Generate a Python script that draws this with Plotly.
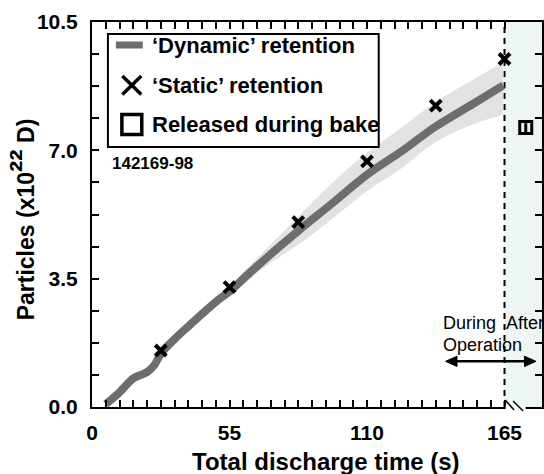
import plotly.graph_objects as go

# ---- data ----
# dynamic retention curve (time in s, particles in 1e22 D)
dyn_time = [5.5, 8, 11, 14, 16.5, 19, 22, 25, 27.5, 33, 39, 45, 51, 55.5, 61.5,
            70, 83, 96, 110.5, 124, 137, 152, 164.5]
dyn_val = [0.08, 0.22, 0.40, 0.62, 0.78, 0.86, 0.95, 1.15, 1.45, 1.85, 2.23, 2.60,
           2.95, 3.18, 3.56, 4.08, 4.83, 5.55, 6.36, 6.98, 7.63, 8.25, 8.77]
dyn_hi = [0.10, 0.24, 0.42, 0.64, 0.80, 0.88, 0.97, 1.18, 1.50, 1.91, 2.31, 2.70,
          3.08, 3.33, 3.75, 4.33, 5.23, 6.10, 6.96, 7.63, 8.30, 8.91, 9.40]
dyn_lo = [0.06, 0.20, 0.38, 0.60, 0.76, 0.84, 0.93, 1.12, 1.40, 1.80, 2.16, 2.50,
          2.82, 3.04, 3.38, 3.86, 4.45, 5.13, 5.91, 6.52, 7.21, 7.70, 7.97]

# static retention points
static_time = [27.5, 55, 82.5, 110, 137.5, 165]
static_val = [1.54, 3.27, 5.04, 6.70, 8.22, 9.49]

# released during bake
bake_time = [173.5]
bake_val = [7.62]
bake_err = [0.12]

# axis ticks
x_major = [0, 55, 110, 165]
x_labels = ["0", "55", "110", "165"]
y_major = [0.0, 3.5, 7.0, 10.5]
y_labels = ["0.0", "3.5", "7.0", "10.5"]
x_step = 5.5
y_step = 0.875

legend_labels = ["‘Dynamic’ retention", "‘Static’ retention", "Released during bake"]

FONT = "Liberation Sans, Arial, Helvetica, sans-serif"
LINE_GRAY = "#6d6d6d"
BAND_GRAY = "#e2e2e2"

W, H = 544, 474
ML, MR, MT, MB = 92, 0, 22, 67
PW, PH = W - ML - MR, H - MT - MB


def px(xpix):
    """Pixel column -> paper x."""
    return (xpix - ML) / PW


def py(ypix):
    """Pixel row -> paper y."""
    return (H - MB - ypix) / PH


# unlabeled minor ticks between the labeled ones
x_minor = [round(i * x_step, 3) for i in range(int(165 / x_step) + 1)]
x_minor = [v for v in x_minor if v not in x_major]
y_minor = [round(i * y_step, 4) for i in range(int(10.5 / y_step) + 1)]
y_minor = [v for v in y_minor if v not in y_major]

fig = go.Figure()

# uncertainty band
fig.add_trace(go.Scatter(x=dyn_time, y=dyn_hi, mode="lines",
                         line=dict(width=0, shape="spline", smoothing=1),
                         showlegend=False, hoverinfo="skip"))
fig.add_trace(go.Scatter(x=dyn_time, y=dyn_lo, mode="lines",
                         line=dict(width=0, shape="spline", smoothing=1),
                         fill="tonexty", fillcolor=BAND_GRAY,
                         showlegend=False, hoverinfo="skip"))
# dynamic retention
fig.add_trace(go.Scatter(x=dyn_time, y=dyn_val, mode="lines",
                         line=dict(color=LINE_GRAY, width=8, shape="spline", smoothing=1),
                         showlegend=False))
# static retention
fig.add_trace(go.Scatter(x=static_time, y=static_val, mode="markers",
                         marker=dict(symbol="x-thin", size=11, color="black",
                                     line=dict(color="black", width=4)),
                         showlegend=False))
# released during bake
fig.add_trace(go.Scatter(x=bake_time, y=bake_val, mode="markers",
                         marker=dict(symbol="square-open", size=12, color="black",
                                     line=dict(color="black", width=3)),
                         error_y=dict(type="data", array=bake_err, color="black",
                                      thickness=3, width=0),
                         showlegend=False))

# arrow between "During Operation" and "After"
arrow_y = 1.245
arrow_l, arrow_r = 141.4, 177.6
head_len, head_half = 4.6, 0.14

shapes = [
    # after-operation region
    dict(type="rect", xref="x", yref="paper", x0=165, x1=200, y0=0, y1=1,
         fillcolor="#edf6f4", line=dict(width=0), layer="below"),
    # boundary between operation and bake
    dict(type="line", xref="x", yref="paper", x0=165, x1=165, y0=0, y1=1,
         line=dict(color="black", width=2, dash="6px,5px"), layer="below"),
    # axis break on the bottom axis
    dict(type="rect", xref="paper", yref="paper", x0=px(507.5), x1=px(527.5),
         y0=py(411), y1=py(405.5), fillcolor="white", line=dict(width=0), layer="above"),
    dict(type="line", xref="paper", yref="paper", x0=px(507), x1=px(516),
         y0=py(400), y1=py(410), line=dict(color="black", width=1.5), layer="above"),
    dict(type="line", xref="paper", yref="paper", x0=px(515), x1=px(525),
         y0=py(401), y1=py(411), line=dict(color="black", width=1.5), layer="above"),
    # double-headed arrow
    dict(type="line", xref="x", yref="y", x0=arrow_l + head_len - 0.5,
         x1=arrow_r - head_len + 0.5, y0=arrow_y, y1=arrow_y,
         line=dict(color="black", width=2.5), layer="above"),
    dict(type="path", xref="x", yref="y",
         path=f"M {arrow_l},{arrow_y} L {arrow_l + head_len},{arrow_y + head_half} "
              f"L {arrow_l + head_len},{arrow_y - head_half} Z",
         fillcolor="black", line=dict(color="black", width=1), layer="above"),
    dict(type="path", xref="x", yref="y",
         path=f"M {arrow_r},{arrow_y} L {arrow_r - head_len},{arrow_y + head_half} "
              f"L {arrow_r - head_len},{arrow_y - head_half} Z",
         fillcolor="black", line=dict(color="black", width=1), layer="above"),
    # legend frame
    dict(type="rect", xref="paper", yref="paper", x0=px(108), x1=px(380),
         y0=py(147), y1=py(34), fillcolor="white",
         line=dict(color="black", width=2), layer="above"),
    # legend key: dynamic line
    dict(type="line", xref="paper", yref="paper", x0=px(116), x1=px(143),
         y0=py(45), y1=py(45), line=dict(color=LINE_GRAY, width=7), layer="above"),
    # legend key: cross
    dict(type="line", xref="paper", yref="paper", x0=px(122.5), x1=px(141.5),
         y0=py(76), y1=py(94.5), line=dict(color="black", width=3.5), layer="above"),
    dict(type="line", xref="paper", yref="paper", x0=px(122.5), x1=px(141.5),
         y0=py(94.5), y1=py(76), line=dict(color="black", width=3.5), layer="above"),
    # legend key: square
    dict(type="rect", xref="paper", yref="paper", x0=px(122), x1=px(142),
         y0=py(134.5), y1=py(114.5), fillcolor="white",
         line=dict(color="black", width=3.5), layer="above"),
]

annotations = [
    dict(text="<b>Total discharge time (s)</b>", xref="paper", yref="paper",
         x=px(327), y=py(461), showarrow=False, xanchor="center", yanchor="middle",
         font=dict(family=FONT, size=24, color="black")),
    dict(text="<b>Particles (x10<span style='font-size:34px'>²²</span> D)</b>",
         xref="paper", yref="paper",
         x=px(22), y=py(219), textangle=-90, showarrow=False,
         xanchor="center", yanchor="middle",
         font=dict(family=FONT, size=23, color="black")),
    dict(text="<b>142169-98</b>", xref="paper", yref="paper", x=px(110), y=py(163),
         showarrow=False, xanchor="left", yanchor="middle",
         font=dict(family=FONT, size=17, color="black")),
    dict(text="During", xref="x", yref="y", x=139.5, y=2.30, showarrow=False,
         xanchor="left", yanchor="middle", font=dict(family=FONT, size=18, color="black")),
    dict(text="Operation", xref="x", yref="y", x=139.5, y=1.68, showarrow=False,
         xanchor="left", yanchor="middle", font=dict(family=FONT, size=18, color="black")),
    dict(text="After", xref="x", yref="y", x=164.9, y=2.30, showarrow=False,
         xanchor="left", yanchor="middle", font=dict(family=FONT, size=18, color="black")),
]
# legend labels
for label, row in zip(legend_labels, [45, 85, 125]):
    annotations.append(dict(text=f"<b>{label}</b>", xref="paper", yref="paper",
                            x=px(150), y=py(row), showarrow=False,
                            xanchor="left", yanchor="middle",
                            font=dict(family=FONT, size=22, color="black")))

tick_style = dict(ticks="inside", ticklen=7, tickwidth=2, tickcolor="black",
                  showline=True, linecolor="black", linewidth=2, mirror="ticks",
                  showgrid=False, zeroline=False)

fig.update_layout(
    width=W, height=H,
    margin=dict(l=ML, r=MR, t=MT, b=MB, pad=0),
    paper_bgcolor="white", plot_bgcolor="white",
    shapes=shapes, annotations=annotations,
    showlegend=False,
    xaxis=dict(range=[0, 180], tickmode="array", tickvals=x_major, ticktext=x_labels,
               ticklabelstandoff=6,
               tickfont=dict(family=FONT, size=21, color="black", weight="bold"),
               minor=dict(tickmode="array", tickvals=x_minor, ticks="inside",
                          ticklen=7, tickwidth=2, tickcolor="black", showgrid=False),
               **tick_style),
    yaxis=dict(range=[0, 10.5], tickmode="array", tickvals=y_major, ticktext=y_labels,
               ticklabelstandoff=8,
               tickfont=dict(family=FONT, size=21, color="black", weight="bold"),
               minor=dict(tickmode="array", tickvals=y_minor, ticks="inside",
                          ticklen=7, tickwidth=2, tickcolor="black", showgrid=False),
               **tick_style),
)

fig.write_html("out.html")
